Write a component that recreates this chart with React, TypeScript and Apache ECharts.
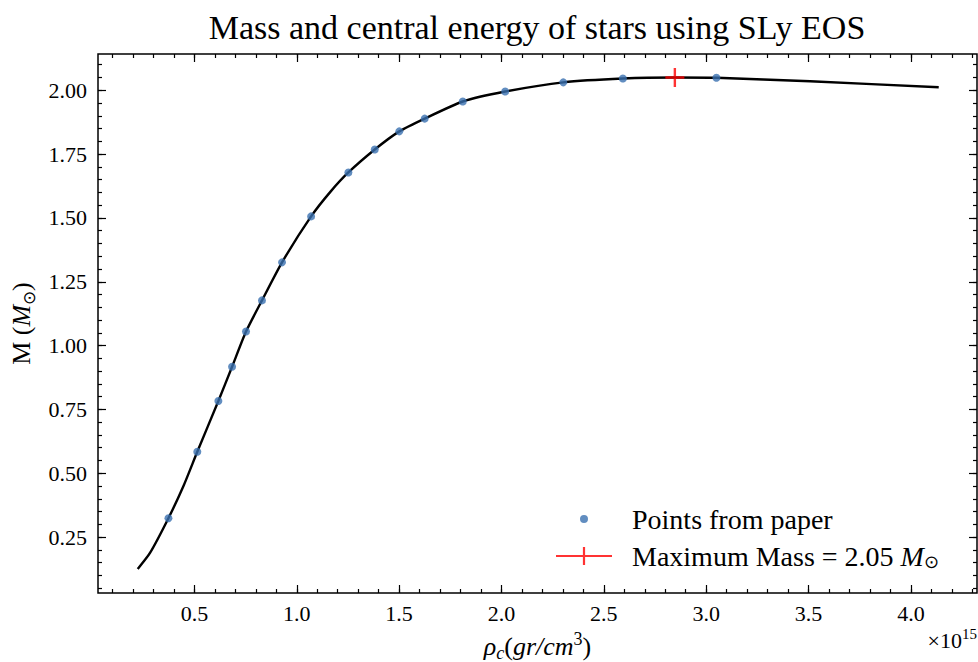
import React, { useEffect, useRef } from 'react';
import * as echarts from 'echarts';

const titleText = 'Mass and central energy of stars using SLy EOS';

// TOV curve (central density in 1e15 g/cm^3, mass in solar masses)
const curveRho = [0.223, 0.283, 0.373, 0.446, 0.514, 0.617, 0.684, 0.752, 0.83, 0.928, 1.07, 1.165, 1.252, 1.381, 1.501, 1.625, 1.811, 2.018, 2.302, 2.593, 2.847, 3.05, 3.508, 4.136];
const curveMass = [0.125, 0.188, 0.324, 0.449, 0.584, 0.783, 0.917, 1.055, 1.177, 1.326, 1.506, 1.603, 1.678, 1.768, 1.839, 1.889, 1.956, 1.995, 2.031, 2.046, 2.05, 2.049, 2.035, 2.012];

// points from paper
const paperRho = [0.373, 0.514, 0.617, 0.684, 0.752, 0.83, 0.928, 1.07, 1.252, 1.381, 1.501, 1.625, 1.811, 2.018, 2.302, 2.593, 3.05];
const paperMass = [0.324, 0.584, 0.783, 0.917, 1.055, 1.177, 1.326, 1.506, 1.678, 1.768, 1.839, 1.889, 1.956, 1.995, 2.031, 2.046, 2.049];

// maximum mass
const maxRho = [2.847];
const maxMass = [2.05];

const xTickValues = [0.5, 1.0, 1.5, 2.0, 2.5, 3.0, 3.5, 4.0];
const yTickValues = [0.25, 0.5, 0.75, 1.0, 1.25, 1.5, 1.75, 2.0];

const seriesNames = ['Points from paper', 'Maximum Mass'];

const FONT = '"Liberation Serif", "Times New Roman", serif';

export default function App() {
  const ref = useRef<HTMLDivElement>(null);

  useEffect(() => {
    const el = ref.current;
    if (!el) return;
    const chart = echarts.init(el, null, { renderer: 'svg' });

    const X_MIN = 0.029, X_MAX = 4.323, Y_MIN = 0.031, Y_MAX = 2.142;
    const xMinor: number[] = [];
    for (let i = 1; i <= 43; i++) xMinor.push(i / 10);
    const yMinor: number[] = [];
    for (let i = 1; i <= 42; i++) yMinor.push((i * 5) / 100);

    const tickLine = { color: '#000', width: 1.2 };

    const mkX = (position: string, values: number[], length: number, main: boolean) => ({
      type: 'value', position, min: X_MIN, max: X_MAX, gridIndex: 0,
      axisLine: { show: false }, splitLine: { show: false },
      minorTick: { show: false }, minorSplitLine: { show: false },
      axisTick: { show: true, inside: true, length, customValues: values, lineStyle: tickLine },
      axisLabel: main
        ? { show: true, customValues: values, formatter: (v: number) => v.toFixed(1), margin: 9, fontFamily: FONT, fontSize: 22, color: '#000' }
        : { show: false },
      axisPointer: { show: false },
      ...(main ? {
        name: '{it|ρ}{sub|c}{n|(}{it|gr/cm}{sup|3}{n|)}',
        nameLocation: 'middle',
        nameGap: 37,
        nameTextStyle: {
          fontFamily: FONT, fontSize: 26, color: '#000', lineHeight: 32,
          rich: {
            it: { fontFamily: FONT, fontSize: 26, fontStyle: 'italic', color: '#000', lineHeight: 32 },
            n: { fontFamily: FONT, fontSize: 26, color: '#000', lineHeight: 32 },
            sub: { fontFamily: FONT, fontSize: 18, fontStyle: 'italic', color: '#000', lineHeight: 22, verticalAlign: 'bottom' },
            sup: { fontFamily: FONT, fontSize: 18, color: '#000', lineHeight: 20, verticalAlign: 'top' },
          },
        },
      } : {}),
    });

    const mkY = (position: string, values: number[], length: number, main: boolean) => ({
      type: 'value', position, min: Y_MIN, max: Y_MAX, gridIndex: 0,
      axisLine: { show: false }, splitLine: { show: false },
      minorTick: { show: false }, minorSplitLine: { show: false },
      axisTick: { show: true, inside: true, length, customValues: values, lineStyle: tickLine },
      axisLabel: main
        ? { show: true, customValues: values, formatter: (v: number) => v.toFixed(2), margin: 11, fontFamily: FONT, fontSize: 22, color: '#000' }
        : { show: false },
      axisPointer: { show: false },
      ...(main ? {
        name: '{n|M (}{it|M}{sub|⊙}{n|)}',
        nameLocation: 'middle',
        nameGap: 57,
        nameRotate: 90,
        nameTextStyle: {
          fontFamily: FONT, fontSize: 26, color: '#000', lineHeight: 32,
          rich: {
            it: { fontFamily: FONT, fontSize: 26, fontStyle: 'italic', color: '#000', lineHeight: 32 },
            n: { fontFamily: FONT, fontSize: 26, color: '#000', lineHeight: 32 },
            sub: { fontFamily: FONT, fontSize: 17, color: '#000', lineHeight: 22, verticalAlign: 'bottom' },
          },
        },
      } : {}),
    });

    const bluePath = 'path://M0,0h0.01v0.01h-0.01z M70.99,19.99h0.01v0.01h-0.01z M24,10a4,4 0 1,0 8,0a4,4 0 1,0 -8,0z';
    const redPath = 'path://M0,0h0.01v0.01h-0.01z M70.99,19.99h0.01v0.01h-0.01z M0,8.9h56v2.2h-56z M26.9,1h2.2v18h-2.2z';
    const plusPath = 'path://M0,8.3h19v2.4h-19z M8.3,0h2.4v19h-2.4z';

    const option: any = {
      animation: false,
      backgroundColor: '#fff',
      grid: {
        left: 98, right: 1, top: 54, bottom: 69,
        show: true, borderColor: '#000', borderWidth: 1.5, backgroundColor: 'transparent',
        containLabel: false, outerBoundsMode: 'none',
      },
      xAxis: [
        mkX('bottom', xTickValues, 8, true),
        mkX('bottom', xMinor, 4, false),
        mkX('top', xTickValues, 8, false),
        mkX('top', xMinor, 4, false),
      ],
      yAxis: [
        mkY('left', yTickValues, 8, true),
        mkY('left', yMinor, 4, false),
        mkY('right', yTickValues, 8, false),
        mkY('right', yMinor, 4, false),
      ],
      legend: {
        show: true,
        orient: 'vertical',
        left: 556,
        top: 504,
        padding: 0,
        itemWidth: 71,
        itemHeight: 20,
        itemGap: 7,
        selectedMode: false,
        data: [
          { name: seriesNames[0], icon: bluePath },
          { name: seriesNames[1], icon: redPath },
        ],
        formatter: (name: string) =>
          name === seriesNames[0]
            ? `{n|${seriesNames[0]}}`
            : `{n|${seriesNames[1]} = ${maxMass[0].toFixed(2)} }{it|M}{sub|⊙}`,
        textStyle: {
          fontFamily: FONT, fontSize: 28, color: '#000', lineHeight: 30,
          rich: {
            n: { fontFamily: FONT, fontSize: 28, color: '#000', lineHeight: 30 },
            it: { fontFamily: FONT, fontSize: 28, fontStyle: 'italic', color: '#000', lineHeight: 30 },
            sub: { fontFamily: FONT, fontSize: 18, color: '#000', lineHeight: 20, verticalAlign: 'bottom' },
          },
        },
      },
      graphic: [
        {
          type: 'text', x: 537, y: 27,
          style: { text: titleText, fontFamily: FONT, fontSize: 34, fill: '#000', align: 'center', verticalAlign: 'middle' },
        },
        {
          type: 'text', x: 977, y: 640,
          style: {
            text: '{n|×10}{sup|15}', align: 'right', verticalAlign: 'middle',
            fontFamily: FONT, fontSize: 22, fill: '#000',
            rich: {
              n: { fontFamily: FONT, fontSize: 22, fill: '#000', lineHeight: 28 },
              sup: { fontFamily: FONT, fontSize: 15, fill: '#000', lineHeight: 16, verticalAlign: 'top' },
            },
          },
        },
      ],
      series: [
        {
          type: 'line', name: 'TOV',
          xAxisIndex: 0, yAxisIndex: 0,
          data: curveRho.map((x, i) => [x, curveMass[i]]),
          symbol: 'none', showSymbol: false,
          smooth: 0.2,
          lineStyle: { color: '#000', width: 2.4 },
          z: 2, silent: true,
        },
        {
          type: 'scatter', name: seriesNames[0],
          xAxisIndex: 0, yAxisIndex: 0,
          data: paperRho.map((x, i) => [x, paperMass[i]]),
          symbol: 'circle', symbolSize: 8,
          itemStyle: { color: '#3a70b0' },
          z: 3, silent: true,
        },
        {
          type: 'scatter', name: seriesNames[1],
          xAxisIndex: 0, yAxisIndex: 0,
          data: maxRho.map((x, i) => [x, maxMass[i]]),
          symbol: plusPath, symbolSize: 19,
          itemStyle: { color: '#ff0000' },
          z: 4, silent: true,
        },
      ],
    };

    chart.setOption(option);
    return () => chart.dispose();
  }, []);

  return (
    <div
      ref={ref}
      style={{ position: 'fixed', left: 0, top: 0, width: 978, height: 662, background: '#fff' }}
    />
  );
}
